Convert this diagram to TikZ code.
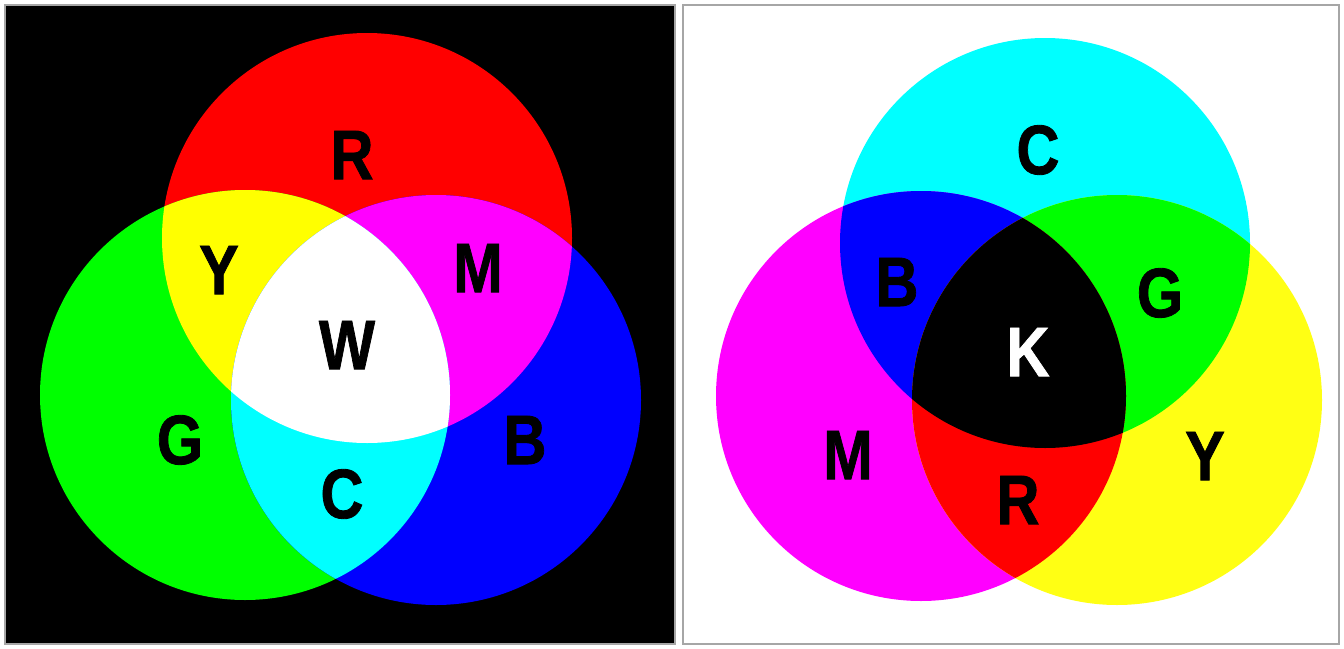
\documentclass[tikz,border=0pt]{standalone}
\usepackage{fontspec}
\setmainfont{Liberation Sans}
\newfontfamily\lblfont[FakeBold=1.2]{Liberation Sans Bold}
\definecolor{pR}{RGB}{255,0,0}
\definecolor{pG}{RGB}{0,255,0}
\definecolor{pB}{RGB}{0,0,255}
\definecolor{pC}{RGB}{0,255,255}
\definecolor{pM}{RGB}{255,0,255}
\definecolor{pY}{RGB}{255,255,0}
\definecolor{pYr}{RGB}{255,255,20}
\begin{document}
\begin{tikzpicture}[x=1pt,y=-1pt,
  lbl/.style={inner sep=0pt,font=\fontsize{70}{70}\lblfont},
  panelbox/.style={draw=gray!70,line width=1.5pt}]
\useasboundingbox (0,0) rectangle (1344,648);
\fill[white] (0,0) rectangle (1344,648);
% ---------- left panel (additive) ----------
\filldraw[fill=black,panelbox] (5,5) rectangle (675,644);
\coordinate (rc) at (367,238);
\coordinate (gc) at (245,395);
\coordinate (bc) at (436,400);
\def\rad{205pt}
\fill[pR] (rc) circle (\rad);
\fill[pG] (gc) circle (\rad);
\fill[pB] (bc) circle (\rad);
\begin{scope}
  \clip (rc) circle (\rad);
  \fill[pY] (gc) circle (\rad);
  \fill[pM] (bc) circle (\rad);
\end{scope}
\begin{scope}
  \clip (gc) circle (\rad);
  \fill[pC] (bc) circle (\rad);
  \clip (bc) circle (\rad);
  \fill[white] (rc) circle (\rad);
\end{scope}
\node[lbl] (lR) at (352,155) {\scalebox{0.85}[1]{R}};
\node[lbl] (lY) at (219,270) {\scalebox{0.85}[1]{Y}};
\node[lbl] (lM) at (478,268) {\scalebox{0.85}[1]{M}};
\node[lbl] (lW) at (347,345) {\scalebox{0.85}[1]{W}};
\node[lbl] (lG) at (180,440) {\scalebox{0.85}[1]{G}};
\node[lbl] (lB) at (525,440) {\scalebox{0.85}[1]{B}};
\node[lbl] (lC) at (342,494) {\scalebox{0.85}[1]{C}};
% ---------- right panel (subtractive) ----------
\filldraw[fill=white,panelbox] (683,5) rectangle (1339,644);
\coordinate (cc) at (1045,243);
\coordinate (mc) at (921,396);
\coordinate (yc) at (1117,400);
\fill[pC] (cc) circle (\rad);
\fill[pM] (mc) circle (\rad);
\fill[pYr] (yc) circle (\rad);
\begin{scope}
  \clip (cc) circle (\rad);
  \fill[pB] (mc) circle (\rad);
  \fill[pG] (yc) circle (\rad);
\end{scope}
\begin{scope}
  \clip (mc) circle (\rad);
  \fill[pR] (yc) circle (\rad);
  \clip (yc) circle (\rad);
  \fill[black] (cc) circle (\rad);
\end{scope}
\node[lbl] (rC) at (1038,150) {\scalebox{0.85}[1]{C}};
\node[lbl] (rB) at (897,282) {\scalebox{0.85}[1]{B}};
\node[lbl] (rG) at (1160,293) {\scalebox{0.85}[1]{G}};
\node[lbl,text=white] (rK) at (1028,352) {\scalebox{0.85}[1]{K}};
\node[lbl] (rM) at (848,455) {\scalebox{0.85}[1]{M}};
\node[lbl] (rR) at (1018,500) {\scalebox{0.85}[1]{R}};
\node[lbl] (rY) at (1205,456) {\scalebox{0.85}[1]{Y}};
\end{tikzpicture}
\end{document}
